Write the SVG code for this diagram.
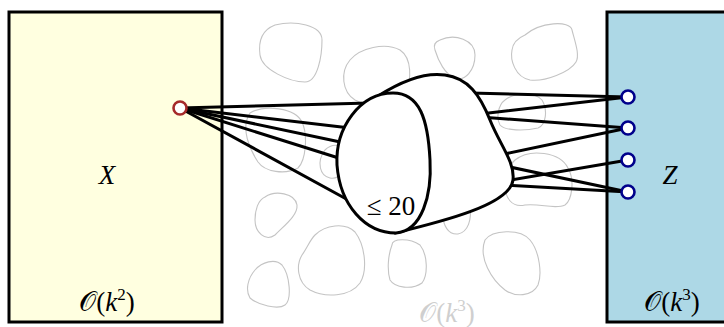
<svg xmlns="http://www.w3.org/2000/svg" width="724" height="327" viewBox="0 0 724 327">
<style>
.box{stroke:#000;stroke-width:3}
.cell{fill:none;stroke:#c4c4c4;stroke-width:1.1}
.edge{stroke:#000;stroke-width:3;fill:none;stroke-linecap:round}
.blob{fill:#fff;stroke:#000;stroke-width:3;stroke-linejoin:round}
.lbl{font-family:"Liberation Serif","DejaVu Serif",serif;font-size:27px;fill:#000}
.it{font-style:italic}
.port{fill:#fff;stroke-width:2.6}
</style>
<g id="left-box">
<rect class="box" x="9" y="12" width="213" height="310" fill="#ffffe0"/>
<text class="lbl it" x="107" y="184" text-anchor="middle">X</text>
<text class="lbl" x="107" y="311" text-anchor="middle">𝒪(<tspan font-style="italic">k</tspan><tspan font-size="17" dy="-11">2</tspan><tspan dy="11">)</tspan></text>
</g>
<g id="right-box">
<rect class="box" x="607" y="12" width="130" height="310" fill="#add8e6"/>
<text class="lbl it" x="670" y="184" text-anchor="middle">Z</text>
<text class="lbl" x="672" y="311" text-anchor="middle">𝒪(<tspan font-style="italic">k</tspan><tspan font-size="17" dy="-11">3</tspan><tspan dy="11">)</tspan></text>
</g>
<g id="cells">
<path class="cell" d="M275,25 C295,20 322,25 322,40 C322,55 318,82 305,82 C290,82 262,70 260,55 C258,40 262,30 275,25 Z"/>
<path class="cell" d="M350,60 C360,48 385,42 400,50 C412,58 412,80 405,95 C395,110 370,108 355,100 C342,92 340,72 350,60 Z"/>
<path class="cell" d="M440,40 C455,33 475,40 475,55 C475,70 465,82 455,78 C445,75 438,60 435,50 C433,45 435,42 440,40 Z"/>
<path class="cell" d="M525,35 C540,22 570,20 572,30 C575,42 580,55 576,62 C570,72 545,82 530,80 C515,77 510,60 512,50 C513,42 518,38 525,35 Z"/>
<path class="cell" d="M505,100 C515,92 535,92 542,100 C548,110 546,125 538,128 C525,131 505,131 500,125 C496,118 498,105 505,100 Z"/>
<path class="cell" d="M515,160 C530,148 560,152 568,168 C575,180 572,200 565,205 C555,210 540,203 525,205 C512,208 505,198 505,185 C505,175 508,166 515,160 Z"/>
<path class="cell" d="M485,240 C492,230 520,228 530,240 C540,252 542,275 538,285 C532,297 515,297 505,290 C492,280 478,258 485,240 Z"/>
<path class="cell" d="M265,197 C275,190 295,193 297,205 C298,215 285,225 275,235 C265,242 255,232 255,220 C255,210 258,200 265,197 Z"/>
<path class="cell" d="M255,270 C262,262 275,258 282,265 C290,275 292,300 285,305 C278,310 258,305 250,298 C245,290 248,278 255,270 Z"/>
<path class="cell" d="M315,235 C325,225 345,222 355,232 C365,245 368,270 360,283 C350,297 325,298 310,290 C297,282 296,265 302,255 C307,248 310,240 315,235 Z"/>
<path class="cell" d="M392,245 C392,238 410,238 420,245 C428,255 428,275 422,283 C412,290 395,288 390,280 C387,270 388,255 392,245 Z"/>
<path class="cell" d="M445,200 C450,190 468,190 470,205 C472,220 468,232 458,234 C448,235 443,225 443,215 Z"/>
<path class="cell" d="M250,113 C265,104 295,108 302,122 C308,135 306,160 298,168 C285,175 265,172 258,162 C250,150 240,128 250,113 Z"/>
<path class="cell" d="M325,150 C332,143 345,143 345,155 C345,170 340,180 330,178 C320,176 316,162 325,150 Z"/>
<text x="447" y="322" text-anchor="middle" style="font-family:'Liberation Serif','DejaVu Serif',serif;font-size:27px;fill:#cfcfcf">𝒪(<tspan font-style="italic">k</tspan><tspan font-size="17" dy="-11">3</tspan><tspan dy="11">)</tspan></text>
</g>
<g id="connectors">
<line class="edge" x1="180" y1="108" x2="370" y2="103"/>
<line class="edge" x1="180" y1="108" x2="350" y2="128"/>
<line class="edge" x1="180" y1="108" x2="345" y2="143"/>
<line class="edge" x1="180" y1="108" x2="345" y2="160"/>
<line class="edge" x1="180" y1="108" x2="350" y2="201"/>
<line class="edge" x1="470" y1="93" x2="628" y2="97"/>
<line class="edge" x1="480" y1="114" x2="628" y2="97"/>
<line class="edge" x1="480" y1="117" x2="628" y2="128"/>
<line class="edge" x1="500" y1="155" x2="628" y2="128"/>
<line class="edge" x1="505" y1="166" x2="628" y2="192"/>
<line class="edge" x1="505" y1="181" x2="628" y2="160"/>
<line class="edge" x1="505" y1="185" x2="628" y2="192"/>
</g>
<g id="cluster">
<path class="blob" d="M378,96 C400,82 425,72 445,75 C468,78 480,95 490,120 C500,145 515,162 513,180 C510,205 440,222 395,233 L390,200 Z"/>
<path class="blob" d="M393,93 C360,93 335,128 337,165 C340,205 365,233 396,233 C422,231 432,195 430,160 C428,120 420,93 393,93 Z"/>
<text class="lbl" x="391" y="215" text-anchor="middle">≤ 20</text>
</g>
<g id="port-x"><circle class="port" cx="180" cy="108" r="6.5" stroke="#a52a2a"/></g>
<g id="port-z1"><circle class="port" cx="628" cy="97" r="6.5" stroke="#00008b"/></g>
<g id="port-z2"><circle class="port" cx="628" cy="128" r="6.5" stroke="#00008b"/></g>
<g id="port-z3"><circle class="port" cx="628" cy="160" r="6.5" stroke="#00008b"/></g>
<g id="port-z4"><circle class="port" cx="628" cy="192" r="6.5" stroke="#00008b"/></g>
</svg>
